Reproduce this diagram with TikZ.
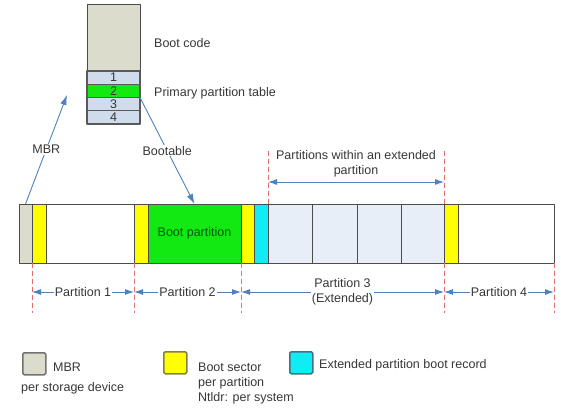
\documentclass[tikz,border=0pt]{standalone}
\usepackage{fontspec}
\setmainfont{Liberation Sans}
\usetikzlibrary{arrows.meta}

\definecolor{mbrgray}{RGB}{220,220,204}
\definecolor{tblue}{RGB}{208,220,236}
\definecolor{bootgreen}{RGB}{18,232,18}
\definecolor{bsyellow}{RGB}{255,255,0}
\definecolor{ebrcyan}{RGB}{16,236,244}
\definecolor{extblue}{RGB}{232,238,248}
\definecolor{arrowblue}{RGB}{79,129,189}
\definecolor{cutred}{RGB}{228,110,110}
\definecolor{txtgray}{RGB}{55,55,55}

\tikzset{
  seg/.style={draw=black!70,line width=.9pt,inner sep=0pt,outer sep=0pt,anchor=north west,minimum height=59pt},
  slot/.style={draw=black!65,line width=1.1pt,inner sep=0pt,outer sep=0pt,anchor=north west,minimum width=53pt,minimum height=13.25pt,fill=tblue,text=txtgray},
  cut/.style={draw=cutred,line width=.9pt,dash pattern=on 5pt off 3pt},
  dim/.style={draw=arrowblue,line width=.9pt,{Latex[length=9pt,width=6pt]}-{Latex[length=9pt,width=6pt]}},
  ptr/.style={draw=arrowblue,line width=.9pt,-{Latex[length=10pt,width=6.5pt]}},
  lbl/.style={text=txtgray,inner sep=1pt},
  key/.style={line width=1.5pt,rounded corners=1.5pt,minimum width=23pt,minimum height=22pt,inner sep=0pt,anchor=north west}
}

\begin{document}
\begin{tikzpicture}[x=1pt,y=-1pt,line join=round,font=\fontsize{12.5}{15}\selectfont]
\useasboundingbox (0,0) rectangle (561,417);
% MBR block
\node[seg,fill=mbrgray,minimum width=53pt,minimum height=67pt] (bootcode) at (87,4) {};
\node[slot] (row1) at (87,71) {1};
\node[slot,fill=bootgreen] (row2) at (87,84.25) {2};
\node[slot] (row3) at (87,97.5) {3};
\node[slot] (row4) at (87,110.75) {4};
\node[lbl,anchor=west] (codelbl) at (153,43) {Boot code};
\node[lbl,anchor=west] (tablelbl) at (153,93) {Primary partition table};
% disk
\node[seg,fill=mbrgray,minimum width=13pt] (mbr) at (19,204) {};
\node[seg,fill=bsyellow,minimum width=14pt] (bs1) at (32,204) {};
\node[seg,fill=white,minimum width=88pt] (p1) at (46,204) {};
\node[seg,fill=bsyellow,minimum width=14pt] (bs2) at (134,204) {};
\node[seg,fill=bootgreen,minimum width=93pt,text=green!35!black] (boot) at (148,204) {Boot partition};
\node[seg,fill=bsyellow,minimum width=13pt] (bs3) at (241,204) {};
\node[seg,fill=ebrcyan,minimum width=14pt] (ebr) at (254,204) {};
\node[seg,fill=extblue,minimum width=44pt] (e1) at (268,204) {};
\node[seg,fill=extblue,minimum width=45pt] (e2) at (312,204) {};
\node[seg,fill=extblue,minimum width=44pt] (e3) at (357,204) {};
\node[seg,fill=extblue,minimum width=43pt] (e4) at (401,204) {};
\node[seg,fill=bsyellow,minimum width=14pt] (bs4) at (444,204) {};
\node[seg,fill=white,minimum width=96pt] (p4) at (458,204) {};
% pointers
\coordinate (mbrtip) at (67,95);
\draw[ptr] (mbr.north) -- (mbrtip) node[lbl,midway,fill=white] {MBR};
\draw[ptr] (row2.south east) -- (boot.north) node[lbl,midway,fill=white] {Bootable};
% cut lines
\coordinate (boty) at (0,313);
\coordinate (dimy) at (0,292);
\coordinate (topy) at (0,150);
\coordinate (exty) at (0,182);
\draw[cut] (bs1.south west) -- (bs1.south west |- boty);
\draw[cut] (bs2.south west) -- (bs2.south west |- boty);
\draw[cut] (bs3.south west) -- (bs3.south west |- boty);
\draw[cut] (bs4.south west) -- (bs4.south west |- boty);
\draw[cut] (p4.south east) -- (p4.south east |- boty);
\draw[cut] (e1.north west) -- (e1.north west |- topy);
\draw[cut] (bs4.north west) -- (bs4.north west |- topy);
% sizes
\draw[dim] (bs1.south west |- dimy) -- (bs2.south west |- dimy) node[lbl,midway,fill=white] {Partition 1};
\draw[dim] (bs2.south west |- dimy) -- (bs3.south west |- dimy) node[lbl,midway,fill=white] {Partition 2};
\draw[dim] (bs3.south west |- dimy) -- (bs4.south west |- dimy) node[lbl,midway,fill=white,align=center] {Partition 3\\(Extended)};
\draw[dim] (bs4.south west |- dimy) -- (p4.south east |- dimy) node[lbl,midway,fill=white] {Partition 4};
\draw[dim] (e1.north west |- exty) -- (bs4.north west |- exty) node[lbl,midway,above=3pt,align=center] {Partitions within an extended\\partition};
% legend
\node[key,draw=black!55,fill=mbrgray] (keymbr) at (22,352) {};
\node[lbl,anchor=west] (keymbrlbl) at (52,367) {MBR};
\node[lbl,anchor=west] (keymbrsub) at (20,388) {per storage device};
\node[key,draw=yellow!45!black,fill=bsyellow] (keybs) at (163,351) {};
\node[lbl,anchor=west,align=left] (keybslbl) at (197,383) {Boot sector\\per partition\\Ntldr: per system};
\node[key,draw=cyan!45!black,fill=ebrcyan] (keyebr) at (289,351) {};
\node[lbl,anchor=west] (keyebrlbl) at (318,365) {Extended partition boot record};
\end{tikzpicture}
\end{document}
